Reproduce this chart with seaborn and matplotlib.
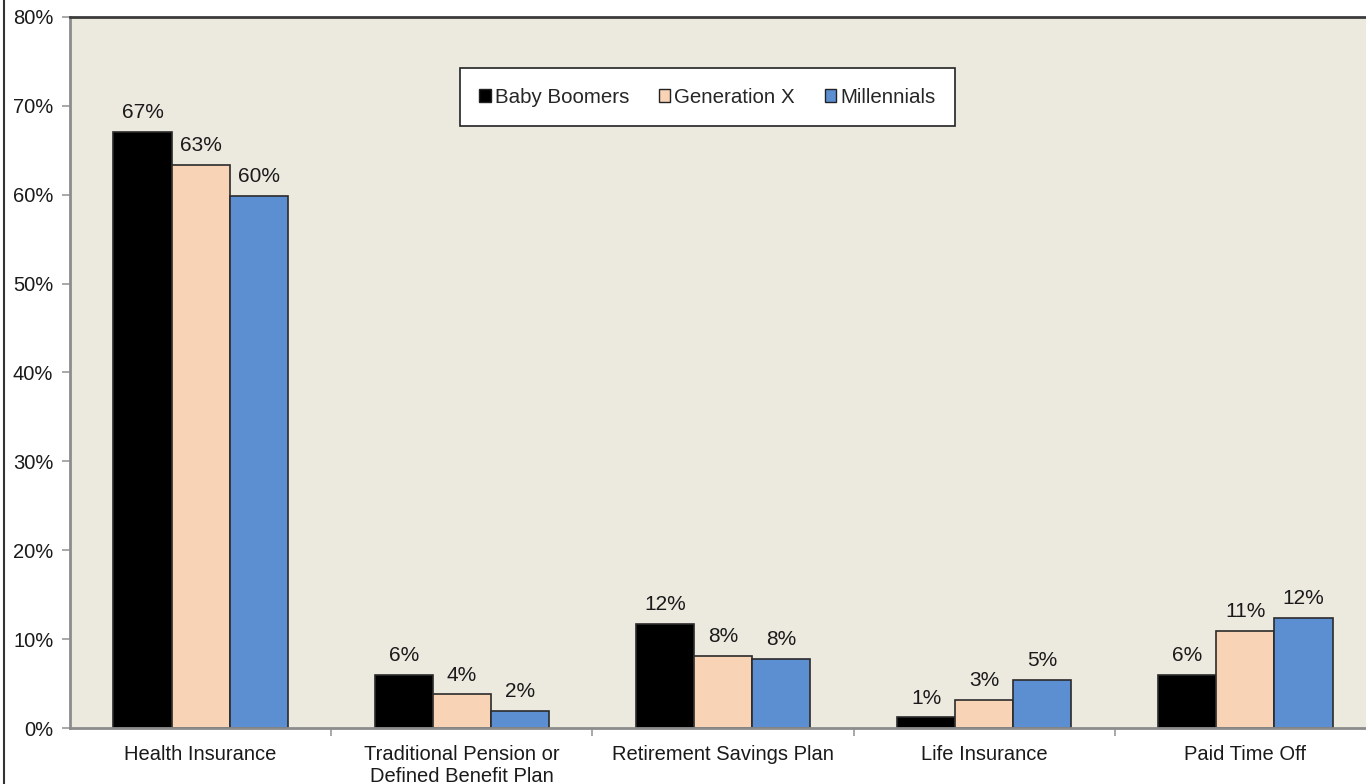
import matplotlib
matplotlib.use("Agg")
import matplotlib.pyplot as plt
from matplotlib.lines import Line2D
from matplotlib.ticker import FixedLocator, PercentFormatter
import seaborn as sns
import pandas as pd

categories = ["Health Insurance", "Traditional Pension or\nDefined Benefit Plan",
              "Retirement Savings Plan", "Life Insurance", "Paid Time Off"]
series = ["Baby Boomers", "Generation X", "Millennials"]
baby_boomers = [67.1, 6.0, 11.7, 1.2, 6.0]
generation_x = [63.4, 3.8, 8.1, 3.2, 10.9]
millennials = [59.9, 1.9, 7.8, 5.4, 12.4]
colors = ["#000000", "#F8D3B6", "#5B8FD2"]

rows = []
for s, vals in zip(series, [baby_boomers, generation_x, millennials]):
    for c, v in zip(categories, vals):
        rows.append({"category": c, "series": s, "value": v})
df = pd.DataFrame(rows)

sns.set_theme(style="white")
plt.rcParams["font.family"] = ["Liberation Sans", "DejaVu Sans"]

fig = plt.figure(figsize=(13.66, 7.84), dpi=100)
ax = fig.add_axes([70 / 1366, 1 - 728 / 784, 1306 / 1366, 711 / 784])
ax.set_facecolor("#ECE9DF")

sns.barplot(data=df, x="category", y="value", hue="series", order=categories,
            hue_order=series, palette=colors, width=0.667, ax=ax,
            edgecolor="#2b2b2b", linewidth=1.2, saturation=1, errorbar=None)

for cont in ax.containers:
    ax.bar_label(cont, labels=[f"{b.get_height():.0f}%" for b in cont],
                 padding=7, fontsize=15, color="#1a1a1a")

ax.set_xlim(-0.5, len(categories) - 0.5)
ax.set_ylim(0, 80)
ax.yaxis.set_major_locator(FixedLocator(range(0, 81, 10)))
ax.yaxis.set_major_formatter(PercentFormatter(decimals=0))
ax.set_xlabel("")
ax.set_ylabel("")

ax.tick_params(axis="x", which="major", length=0, labelsize=14.5, pad=12, labelcolor="#1a1a1a")
ax.xaxis.set_minor_locator(FixedLocator([i + 0.5 for i in range(len(categories) - 1)]))
ax.tick_params(axis="x", which="minor", length=6, width=1.2, color="#999999", bottom=True)
ax.tick_params(axis="y", which="major", length=6, width=1.2, color="#999999",
               labelsize=14.5, pad=6, left=True, labelcolor="#1a1a1a")

for side in ["left", "bottom"]:
    ax.spines[side].set_color("#8c8c8c")
    ax.spines[side].set_linewidth(2)
ax.spines["top"].set_color("#3c3c3c")
ax.spines["top"].set_linewidth(2)
ax.spines["right"].set_visible(False)

leg = ax.legend(loc="center", bbox_to_anchor=(0.488, 0.887), ncol=3, frameon=True,
                fontsize=14.8, handlelength=0.55, handleheight=0.55, handletextpad=0.2,
                columnspacing=1.45, borderpad=0.95, fancybox=False)
leg.get_frame().set_edgecolor("#222222")
leg.get_frame().set_linewidth(1.2)
leg.get_frame().set_facecolor("white")
leg.get_frame().set_alpha(1)
for h in leg.legend_handles:
    h.set_edgecolor("#222222")
    h.set_linewidth(1.0)

fig.add_artist(Line2D([3.5 / 1366, 3.5 / 1366], [0, 1], transform=fig.transFigure,
                      color="#333333", linewidth=1.5))

fig.savefig("out.png", dpi=100, facecolor="white")
